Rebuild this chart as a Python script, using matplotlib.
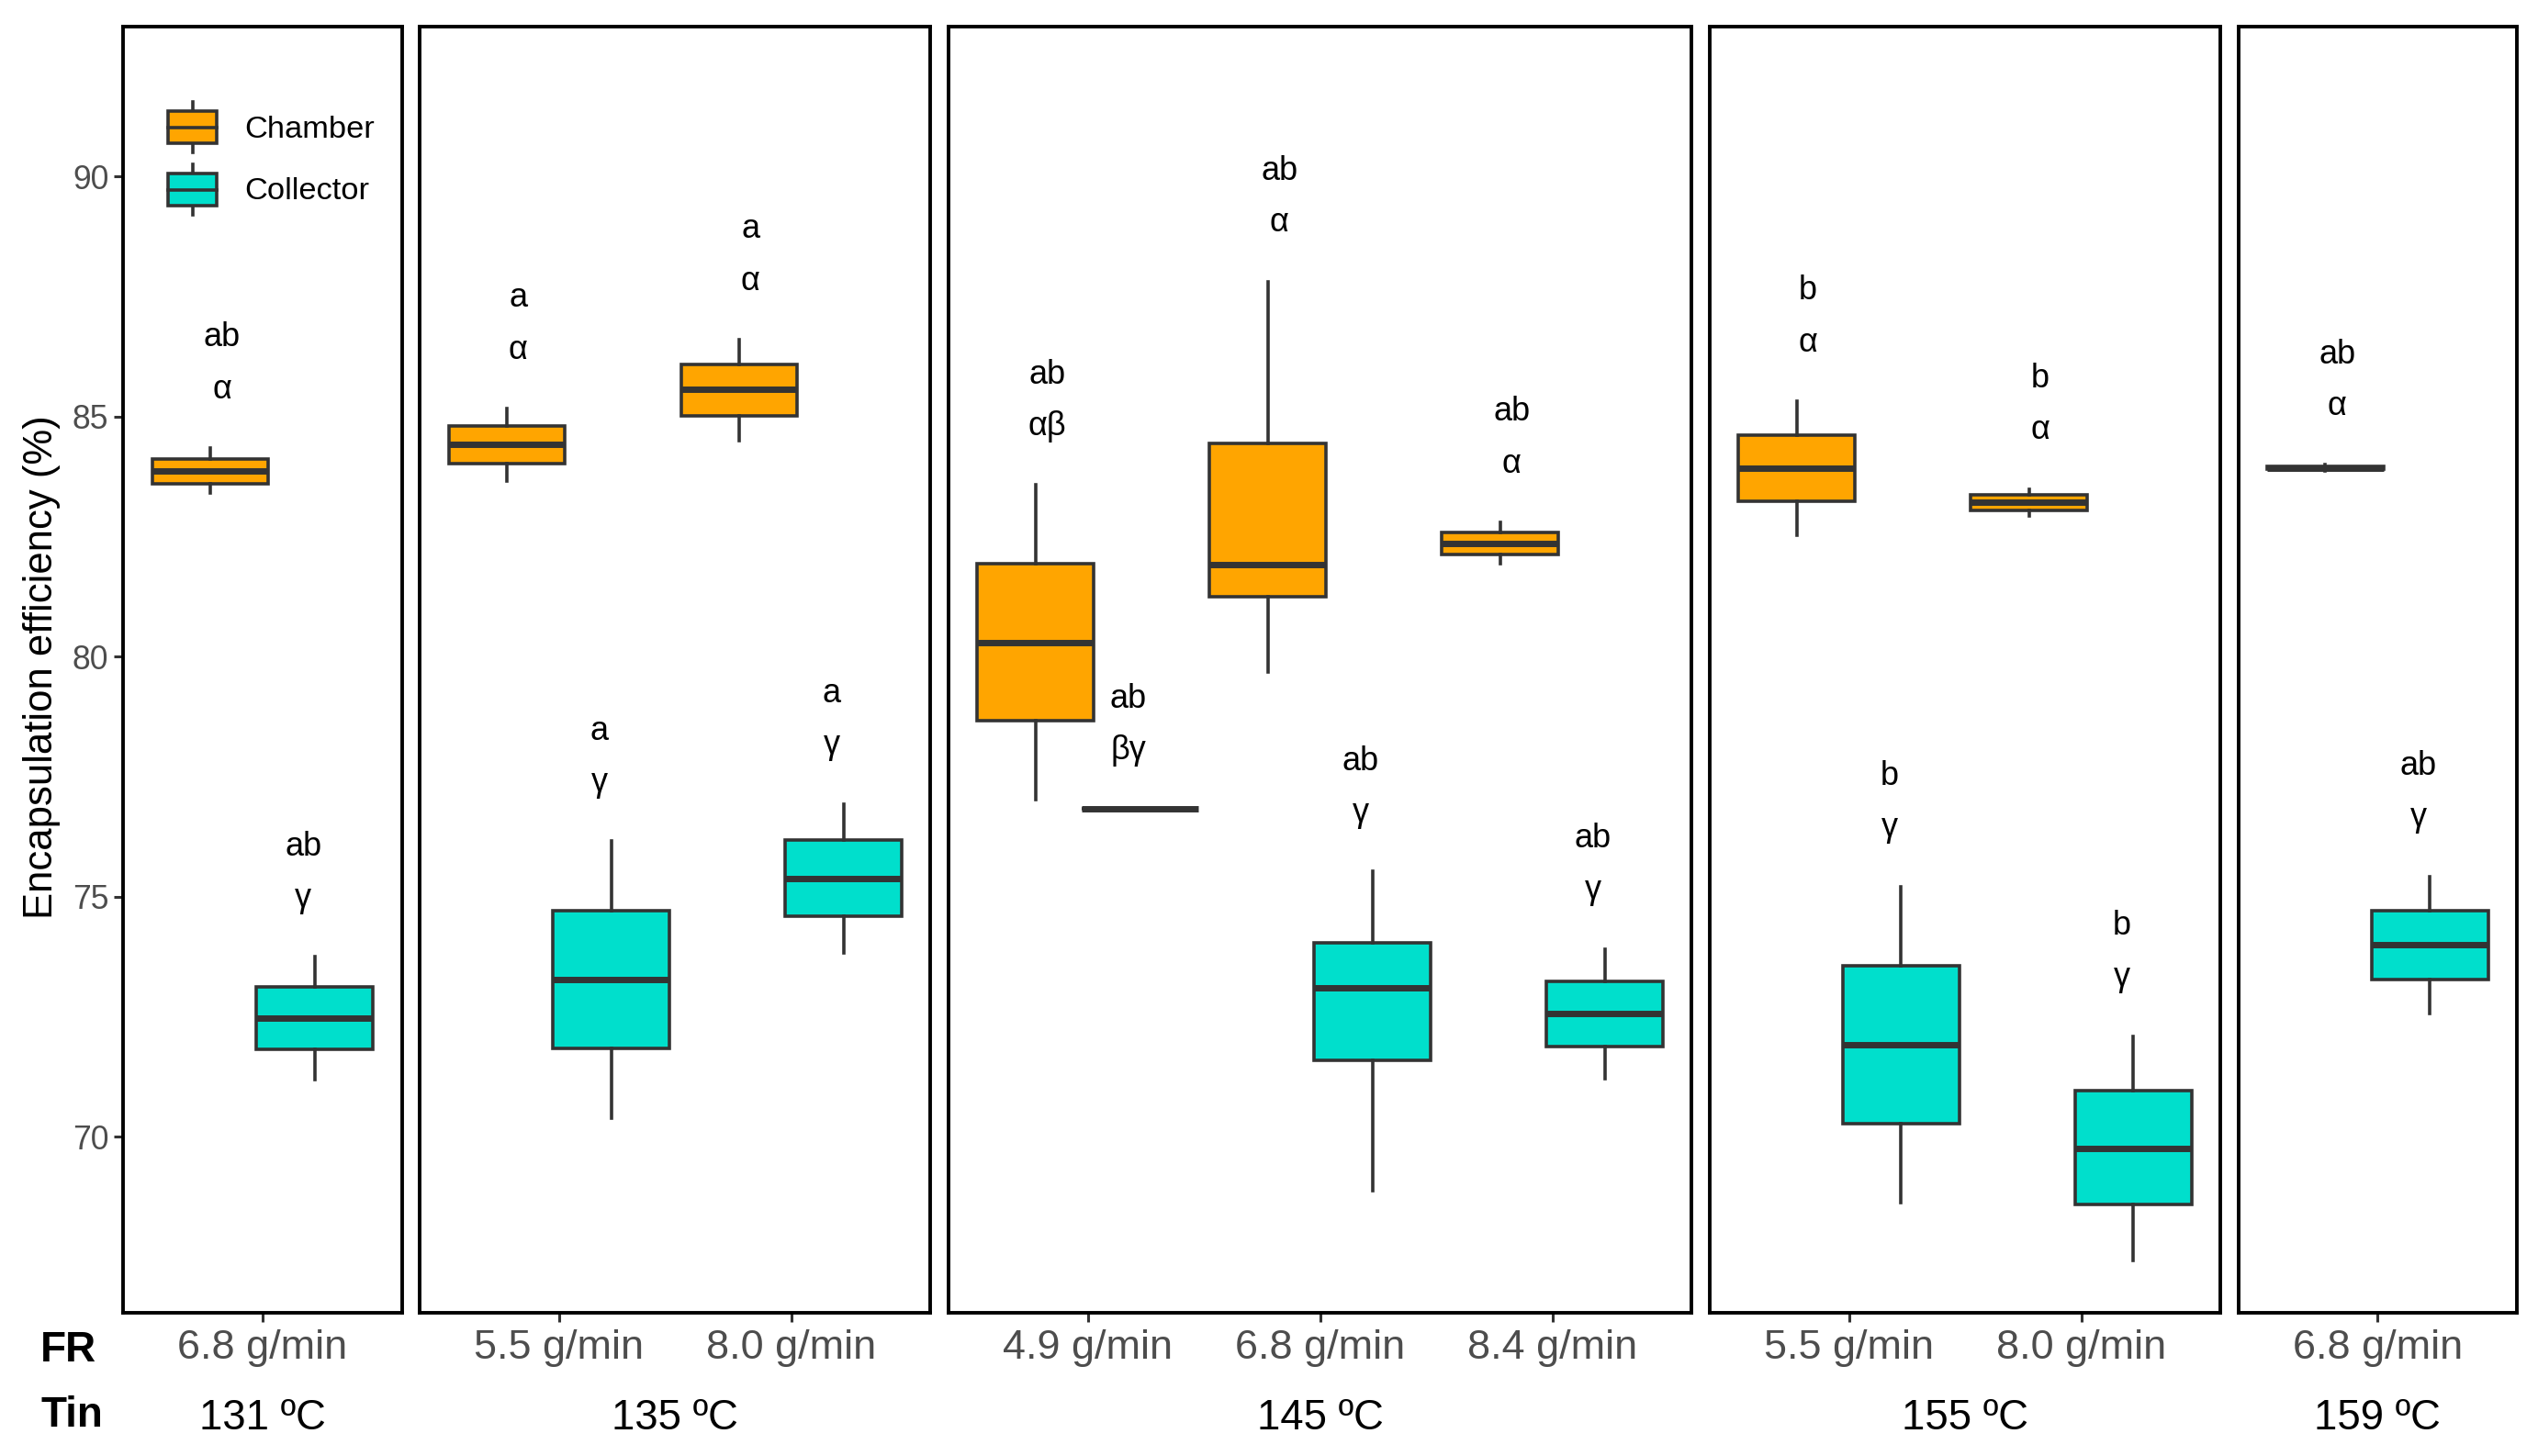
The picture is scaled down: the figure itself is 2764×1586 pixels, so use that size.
import matplotlib
matplotlib.use("Agg")
import matplotlib.pyplot as plt
from matplotlib.legend_handler import HandlerBase
from matplotlib.patches import Patch, Rectangle
from matplotlib.lines import Line2D

plt.rcParams['font.family'] = ['Liberation Sans', 'DejaVu Sans']

# ---- data ----
temps = ['131 ºC', '135 ºC', '145 ºC', '155 ºC', '159 ºC']
flow_rates = [['6.8'], ['5.5', '8.0'], ['4.9', '6.8', '8.4'], ['5.5', '8.0'], ['6.8']]

# (whisker low, q1, median, q3, whisker high), in the order of flow_rates flattened
chamber_stats = [
    (83.40, 83.60, 83.86, 84.11, 84.34),
    (83.66, 84.01, 84.41, 84.80, 85.16),
    (84.49, 85.02, 85.56, 86.09, 86.60),
    (77.01, 78.66, 80.28, 81.93, 83.57),
    (79.67, 81.25, 81.91, 84.44, 87.81),
    (81.93, 82.12, 82.35, 82.58, 82.79),
    (82.53, 83.23, 83.93, 84.62, 85.32),
    (82.93, 83.05, 83.21, 83.36, 83.49),
    (83.86, 83.90, 83.93, 83.96, 83.99),
]
collector_stats = [
    (71.18, 71.82, 72.47, 73.12, 73.74),
    (70.39, 71.84, 73.27, 74.70, 76.15),
    (73.82, 74.60, 75.38, 76.17, 76.93),
    (76.82, 76.82, 76.82, 76.82, 76.82),
    (68.87, 71.59, 73.10, 74.04, 75.52),
    (71.20, 71.87, 72.56, 73.24, 73.91),
    (68.62, 70.26, 71.91, 73.55, 75.21),
    (67.42, 68.58, 69.76, 70.95, 72.09),
    (72.56, 73.27, 73.99, 74.71, 75.42),
]
chamber_letters = ['ab', 'a', 'a', 'ab', 'ab', 'ab', 'b', 'b', 'ab']
chamber_greek = ['α', 'α', 'α', 'αβ', 'α', 'α', 'α', 'α', 'α']
collector_letters = ['ab', 'a', 'a', 'ab', 'ab', 'ab', 'b', 'b', 'ab']
collector_greek = ['γ', 'γ', 'γ', 'βγ', 'γ', 'γ', 'γ', 'γ', 'γ']

ymin, ymax = 66.33, 93.12
yticks = [70, 75, 80, 85, 90]

c_chamber = '#FFA500'
c_collector = '#00DFCC'
edge = '#333333'

# ---- layout (fractions of figure) ----
W, H = 2764, 1586
fig = plt.figure(figsize=(W / 200, H / 200), dpi=200)
left = 134 / W
unit = 253 / W
gap = 19.3 / W
bottom = 1 - 1430 / H
top = 1 - 29 / H

dodge = 0.225
bw = 0.5


def make_stats(s):
    return {'whislo': s[0], 'q1': s[1], 'med': s[2], 'q3': s[3], 'whishi': s[4], 'fliers': []}


def draw_boxes(ax, stats, pos, color):
    ax.bxp([make_stats(s) for s in stats], positions=pos, widths=bw,
           patch_artist=True, showcaps=False, showfliers=False,
           boxprops=dict(facecolor=color, edgecolor=edge, linewidth=1.3),
           medianprops=dict(color=edge, linewidth=2.5, solid_capstyle='butt'),
           whiskerprops=dict(color=edge, linewidth=1.3),
           manage_ticks=False)


axes = []
k = 0
x0 = left
for i, t in enumerate(temps):
    n = len(flow_rates[i])
    w = (n + 0.2) * unit
    ax = fig.add_axes([x0, bottom, w, top - bottom])
    axes.append(ax)
    idx = list(range(n))
    cs = chamber_stats[k:k + n]
    ks = collector_stats[k:k + n]
    draw_boxes(ax, cs, [j - dodge for j in idx], c_chamber)
    draw_boxes(ax, ks, [j + dodge for j in idx], c_collector)
    for j in idx:
        ax.text(j - dodge + 0.05, cs[j][4] + 2.3, chamber_letters[k + j], ha='center', va='center', fontsize=13)
        ax.text(j - dodge + 0.05, cs[j][4] + 1.22, chamber_greek[k + j], ha='center', va='center', fontsize=13)
        ax.text(j + dodge - 0.05, ks[j][4] + 2.3, collector_letters[k + j], ha='center', va='center', fontsize=13)
        ax.text(j + dodge - 0.05, ks[j][4] + 1.22, collector_greek[k + j], ha='center', va='center', fontsize=13)
    ax.set_xlim(-0.6, n - 0.4)
    ax.set_ylim(ymin, ymax)
    ax.set_xticks(idx)
    ax.set_xticklabels([fr + ' g/min' for fr in flow_rates[i]], fontsize=16.2, color='#4D4D4D')
    ax.tick_params(axis='x', length=3.6, width=1.1, color=edge, pad=3)
    if i == 0:
        ax.set_yticks(yticks)
        ax.set_yticklabels([str(v) for v in yticks], fontsize=12.8, color='#4D4D4D')
        ax.tick_params(axis='y', length=3.6, width=1.1, color=edge, pad=2)
    else:
        ax.set_yticks([])
    for sp in ax.spines.values():
        sp.set_linewidth(1.4)
        sp.set_color('black')
    fig.text(x0 + w / 2, 1 - 1545 / H, t, ha='center', va='center', fontsize=16.4)
    x0 += w + gap
    k += n

fig.text(0.0163, 1 - 727 / H, 'Encapsulation efficiency (%)', rotation=90,
         ha='center', va='center', fontsize=15.7)
fig.text(0.016, 1 - 1471 / H, 'FR', ha='left', va='center', fontsize=16.5, fontweight='bold')
fig.text(0.016, 1 - 1542 / H, 'Tin', ha='left', va='center', fontsize=16.5, fontweight='bold')


class BoxKey(HandlerBase):
    def create_artists(self, legend, orig_handle, xdescent, ydescent, width, height, fontsize, trans):
        x = -xdescent
        y = -ydescent
        cx = x + width / 2
        whisk = Line2D([cx, cx], [y, y + height], color=edge, lw=1.3, transform=trans)
        rect = Rectangle((x, y + 0.18 * height), width, 0.64 * height,
                         facecolor=orig_handle.get_facecolor(), edgecolor=edge, lw=1.3, transform=trans)
        med = Line2D([x, x + width], [y + 0.5 * height] * 2, color=edge, lw=1.3, transform=trans)
        return [whisk, rect, med]


handles = [Patch(facecolor=c_chamber), Patch(facecolor=c_collector)]
axes[0].legend(handles, ['Chamber', 'Collector'], handler_map={Patch: BoxKey()},
               loc='upper left', bbox_to_anchor=(0.163, 0.9415), frameon=False,
               fontsize=12.4, handlelength=1.53, handleheight=2.1, labelspacing=0.36,
               handletextpad=0.88, borderpad=0, borderaxespad=0)

fig.savefig('out.png', dpi=200)
